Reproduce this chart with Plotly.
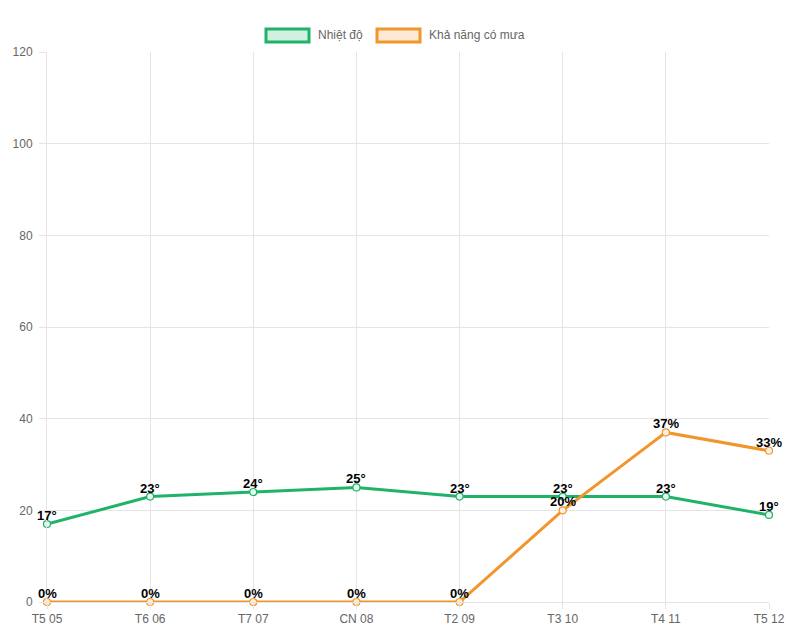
import plotly.graph_objects as go

categories = ["T5 05", "T6 06", "T7 07", "CN 08", "T2 09", "T3 10", "T4 11", "T5 12"]
temperature = [17, 23, 24, 25, 23, 23, 23, 19]
rain_chance = [0, 0, 0, 0, 0, 20, 37, 33]
series_names = ["Nhiệt độ", "Khả năng có mưa"]
y_ticks = [0, 20, 40, 60, 80, 100, 120]

green = "#1fb36a"
green_fill = "rgba(31,179,106,0.2)"
orange = "#f0962a"
orange_fill = "rgba(240,150,42,0.2)"
grid = "#e5e5e5"
font_family = "Liberation Sans, Arial, sans-serif"

fig = go.Figure()
fig.add_trace(go.Scatter(
    x=categories, y=temperature, name=series_names[0],
    mode="lines+markers",
    line=dict(color=green, width=3),
    marker=dict(size=7, color="#e8f7ef", line=dict(color=green, width=1.2)),
    cliponaxis=False, showlegend=False,
))
fig.add_trace(go.Scatter(
    x=categories, y=rain_chance, name=series_names[1],
    mode="lines+markers",
    line=dict(color=orange, width=3),
    marker=dict(size=7, color="#fdf0e0", line=dict(color=orange, width=1.2)),
    cliponaxis=False, showlegend=False,
))

# page body has an 8px margin: work in window pixels, convert to figure
OFF = 8
W, H = 784, 627
plot_l, plot_r, plot_t, plot_b = 47, 769, 52, 602
ml = plot_l - OFF
mt = plot_t - OFF
mr = W - (plot_r - OFF)
mb = H - (plot_b - OFF)
pw = W - ml - mr
ph = H - mt - mb

def px_to_paper_x(px):
    return (px - plot_l) / pw
def px_to_paper_y(py):
    return (plot_b - py) / ph

annotations = []
label_font = dict(family=font_family, size=13, color="#000000", weight="bold")
for cat, v in zip(categories, temperature):
    annotations.append(dict(x=cat, y=v, xref="x", yref="y", text=f"{v}°",
                            showarrow=False, xanchor="center", yanchor="bottom",
                            yshift=0, font=label_font, borderpad=0))
for cat, v in zip(categories, rain_chance):
    annotations.append(dict(x=cat, y=v, xref="x", yref="y", text=f"{v}%",
                            showarrow=False, xanchor="center", yanchor="bottom",
                            yshift=0, font=label_font, borderpad=0))

# Custom Chart.js-like legend
shapes = []
legend_items = [
    (series_names[0], green, green_fill, 266),
    (series_names[1], orange, orange_fill, 377),
]
for name, col, fill, x0 in legend_items:
    shapes.append(dict(type="rect", xref="paper", yref="paper",
                       x0=px_to_paper_x(x0), x1=px_to_paper_x(x0 + 43),
                       y0=px_to_paper_y(42), y1=px_to_paper_y(29),
                       line=dict(color=col, width=3), fillcolor=fill))
    annotations.append(dict(xref="paper", yref="paper",
                            x=px_to_paper_x(x0 + 50), y=px_to_paper_y(35),
                            text=name, showarrow=False, xanchor="left", yanchor="middle",
                            font=dict(family=font_family, size=12, color="#666666")))

fig.update_layout(
    width=W, height=H,
    margin=dict(l=ml, r=mr, t=mt, b=mb, pad=0, autoexpand=False),
    plot_bgcolor="white", paper_bgcolor="white",
    font=dict(family=font_family, size=12, color="#666666"),
    shapes=shapes, annotations=annotations,
    showlegend=False,
    xaxis=dict(
        type="category", range=[0, len(categories) - 1],
        automargin=False,
        showgrid=True, gridcolor=grid, gridwidth=1,
        ticks="outside", ticklen=6, tickcolor=grid,
        showline=True, linecolor=grid, linewidth=1,
        tickfont=dict(size=12, color="#666666"),
        zeroline=False, mirror=False,
    ),
    yaxis=dict(
        range=[0, 120], tickvals=y_ticks,
        automargin=False,
        showgrid=True, gridcolor=grid, gridwidth=1,
        ticks="outside", ticklen=7, tickcolor=grid,
        ticklabelstandoff=4,
        showline=True, linecolor=grid, linewidth=1,
        tickfont=dict(size=12, color="#666666"),
        zeroline=False,
    ),
)

fig.write_html("out.html")
